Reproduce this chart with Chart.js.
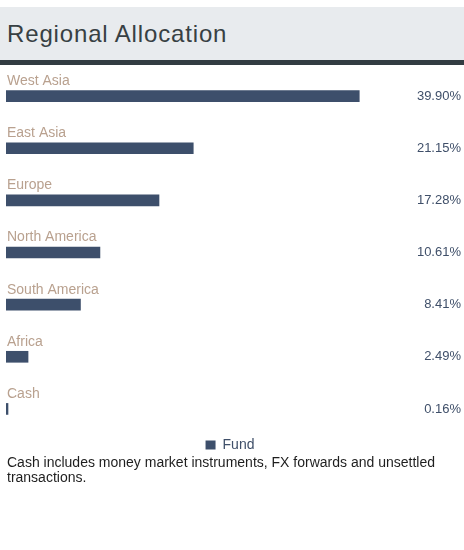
<!DOCTYPE html>
<html>
<head>
<meta charset="utf-8">
<script src="https://cdn.jsdelivr.net/npm/chart.js@4"></script>
<style>
  html, body { margin: 0; padding: 0; background: #ffffff; }
  body { width: 464px; height: 550px; position: relative; font-family: "Liberation Sans", Arial, sans-serif; }
  #header { position: absolute; left: 0; top: 7px; width: 464px; height: 53px; background: #e8ebee; }
  #title { position: absolute; left: 7px; top: 13px; font-size: 24px; letter-spacing: 0.85px; color: #374043; white-space: nowrap; }
  #rule { position: absolute; left: 0; top: 60px; width: 464px; height: 5px; background: #323c42; }
  #wrap { position: absolute; left: 0; top: 65px; width: 464px; height: 397px; }
  #note { position: absolute; left: 7px; top: 455px; width: 457px; font-size: 14px; line-height: 15px; color: #1e1e1e; }
</style>
</head>
<body>
<div id="header"><div id="title">Regional Allocation</div></div>
<div id="rule"></div>
<div id="wrap"><canvas id="c"></canvas></div>
<div id="note">Cash includes money market instruments, FX forwards and unsettled transactions.</div>
<script>
const categories = ["West Asia", "East Asia", "Europe", "North America", "South America", "Africa", "Cash"];
const fundValues = [39.90, 21.15, 17.28, 10.61, 8.41, 2.49, 0.16];
const valueLabels = ["39.90%", "21.15%", "17.28%", "10.61%", "8.41%", "2.49%", "0.16%"];
const seriesName = "Fund";

const labelPlugin = {
  id: 'rowLabels',
  afterDatasetsDraw(chart) {
    const ctx = chart.ctx;
    const yScale = chart.scales.y;
    const meta = chart.getDatasetMeta(0);
    ctx.save();
    ctx.textBaseline = 'middle';
    categories.forEach((cat, i) => {
      const y = yScale.getPixelForValue(i);
      ctx.font = '14px "Liberation Sans", Arial, sans-serif';
      ctx.fillStyle = '#b9a18f';
      ctx.textAlign = 'left';
      ctx.fillText(cat, 7, y - 15);
      ctx.font = '13px "Liberation Sans", Arial, sans-serif';
      ctx.fillStyle = '#3f4f69';
      ctx.textAlign = 'right';
      ctx.fillText(valueLabels[i], chart.width - 3, meta.data[i].y);
    });
    ctx.restore();
  }
};

new Chart(document.getElementById('c'), {
  type: 'bar',
  data: {
    labels: categories,
    datasets: [{
      label: seriesName,
      data: fundValues,
      backgroundColor: '#3d4f6b',
      borderWidth: 0,
      barThickness: 11,
      minBarLength: 2
    }]
  },
  options: {
    indexAxis: 'y',
    responsive: true,
    maintainAspectRatio: false,
    animation: false,
    layout: { padding: { left: 6, right: 10, top: 5, bottom: 0 } },
    scales: {
      x: { min: 0, max: 50.6, display: false, grid: { display: false } },
      y: { display: false, grid: { display: false } }
    },
    plugins: {
      tooltip: { enabled: false },
      legend: {
        display: true,
        position: 'bottom',
        labels: {
          boxWidth: 10,
          boxHeight: 9,
          padding: 3,
          color: '#3f4f69',
          font: { size: 14, family: '"Liberation Sans", Arial, sans-serif' }
        }
      }
    }
  },
  plugins: [labelPlugin]
});
</script>
</body>
</html>
